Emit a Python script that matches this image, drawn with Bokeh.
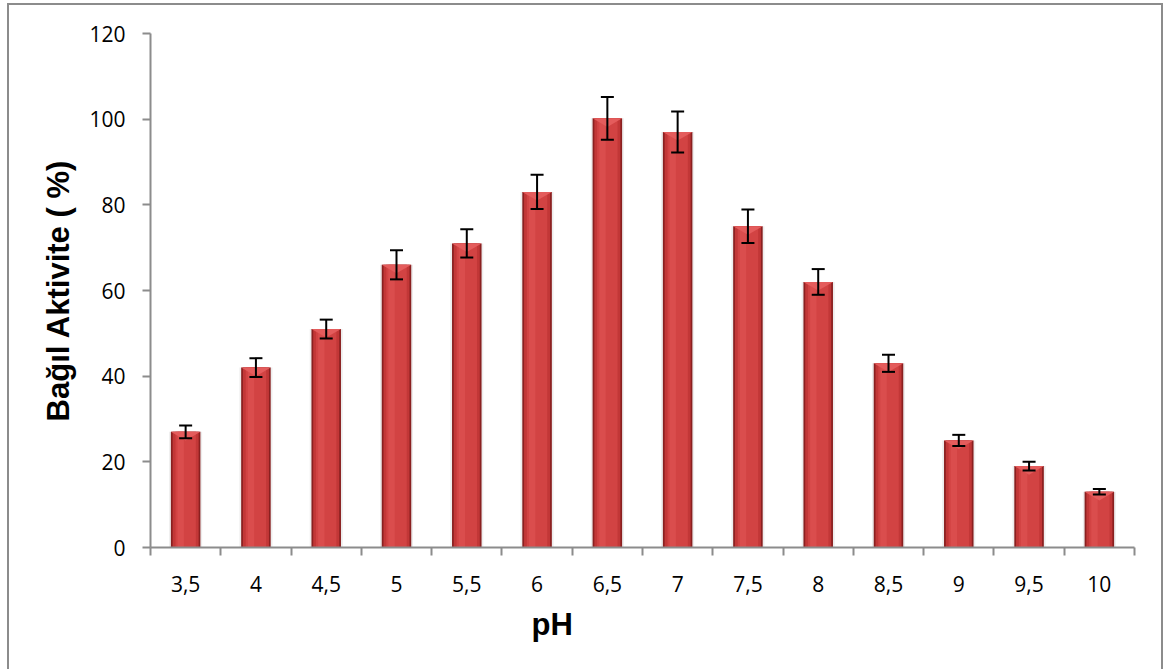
from bokeh.plotting import figure
from bokeh.models import FixedTicker, Whisker, ColumnDataSource, Range1d, TeeHead, Title
from bokeh.embed import file_html
from bokeh.resources import INLINE

ph_labels = ["3,5", "4", "4,5", "5", "5,5", "6", "6,5", "7", "7,5", "8", "8,5", "9", "9,5", "10"]
activity = [27, 42, 51, 66, 71, 83, 100.2, 97, 75, 62, 43, 25, 19, 13]
error = [1.5, 2.2, 2.2, 3.4, 3.3, 4.0, 5.0, 4.8, 3.9, 3.0, 2.0, 1.3, 1.0, 0.65]
y_ticks = [0, 20, 40, 60, 80, 100, 120]
x_title = "pH"
y_title = "Bağıl Aktivite ( %)"

xs = [i + 0.5 for i in range(len(ph_labels))]
src = ColumnDataSource(dict(
    x=xs, top=activity,
    upper=[a + e for a, e in zip(activity, error)],
    lower=[a - e for a, e in zip(activity, error)],
    xs_hl=[x - 0.07 for x in xs],
))

W, H = 1156, 666
p = figure(width=W, height=H, output_backend="svg", toolbar_location=None,
           x_range=Range1d(0, len(ph_labels)), y_range=Range1d(0, 120),
           min_border_left=141, min_border_right=31, min_border_top=28, min_border_bottom=124)
p.styles = {"border-left": "2px solid #8c8c8c", "border-top": "2px solid #8c8c8c",
            "border-right": "2px solid #8c8c8c", "box-sizing": "border-box",
            "margin-top": "3px", "margin-left": "7px"}
p.outline_line_color = None
p.xgrid.grid_line_color = None
p.ygrid.grid_line_color = None
p.background_fill_color = "white"

# shadow
p.vbar(x="x", top="top", width=0.47, bottom=0, source=src, fill_color="black",
       fill_alpha=0.07, line_color=None)
# bar body layers (simulate cylinder shading)
p.vbar(x="x", top="top", width=0.42, bottom=0, source=src, fill_color="#8A2020", line_color=None)
p.vbar(x="x", top="top", width=0.37, bottom=0, source=src, fill_color="#C23737", line_color=None)
p.vbar(x="x", top="top", width=0.29, bottom=0, source=src, fill_color="#D24343", line_color=None)
p.vbar(x="xs_hl", top="top", width=0.09, bottom=0, source=src, fill_color="#DA4D4D", line_color=None)
# top bevel
bevel_x = [[x - 0.21, x + 0.21, x] for x in xs]
bevel_y = [[a, a, a - 2.0] for a in activity]
p.patches(bevel_x, bevel_y, fill_color="#E45C5C", line_color=None)

w = Whisker(base="x", upper="upper", lower="lower", source=src, line_color="black", line_width=2,
            upper_head=TeeHead(size=13, line_color="black", line_width=2),
            lower_head=TeeHead(size=13, line_color="black", line_width=2))
w.level = "overlay"
p.add_layout(w)

# x axis
p.xaxis.ticker = FixedTicker(ticks=xs, minor_ticks=list(range(len(ph_labels) + 1)))
p.xaxis.major_label_overrides = {x: lab for x, lab in zip(xs, ph_labels)}
p.xaxis.major_tick_line_color = None
p.xaxis.minor_tick_in = 0
p.xaxis.minor_tick_out = 8
p.xaxis.minor_tick_line_color = "#8c8c8c"
p.xaxis.minor_tick_line_width = 2
p.xaxis.axis_line_color = "#8c8c8c"
p.xaxis.axis_line_width = 2
p.xaxis.major_label_text_font = "Open Sans"
p.xaxis.major_label_text_font_size = "21px"
p.xaxis.major_label_text_color = "black"
p.xaxis.major_label_standoff = 20

p.add_layout(Title(text=x_title, align="left", offset=381, standoff=20,
                   text_font="Liberation Sans", text_font_style="bold", text_font_size="31px",
                   text_color="black"), "below")

# y axis
p.yaxis.ticker = FixedTicker(ticks=y_ticks, minor_ticks=[])
p.yaxis.major_tick_in = 0
p.yaxis.major_tick_out = 8
p.yaxis.major_tick_line_color = "#8c8c8c"
p.yaxis.major_tick_line_width = 2
p.yaxis.minor_tick_line_color = None
p.yaxis.axis_line_color = "#8c8c8c"
p.yaxis.axis_line_width = 2
p.yaxis.major_label_text_font = "Open Sans"
p.yaxis.major_label_text_font_size = "21px"
p.yaxis.major_label_text_color = "black"
p.yaxis.major_label_standoff = 17
p.yaxis.axis_label = y_title
p.yaxis.axis_label_text_font = "Liberation Sans"
p.yaxis.axis_label_text_font_style = "bold"
p.yaxis.axis_label_text_font_size = "31px"
p.yaxis.axis_label_text_color = "black"
p.yaxis.axis_label_standoff = 10

open("out.html", "w").write(file_html(p, INLINE))
